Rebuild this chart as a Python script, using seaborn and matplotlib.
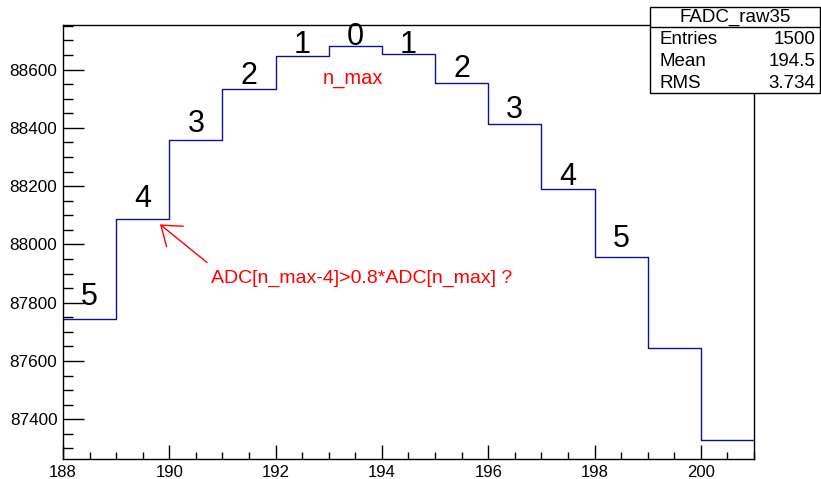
import numpy as np
import pandas as pd
import matplotlib
matplotlib.use("Agg")
import matplotlib.pyplot as plt
from matplotlib.ticker import MultipleLocator
import seaborn as sns

# histogram contents, one bin per ADC sample
bin_edges = [188, 189, 190, 191, 192, 193, 194, 195, 196, 197, 198, 199, 200, 201]
adc_values = [87743, 88087, 88360, 88533, 88647, 88680, 88654, 88553, 88415, 88190, 87956, 87645, 87329]
# distance from the maximum, written above the bins 188..198
dist_labels = ["5", "4", "3", "2", "1", "0", "1", "2", "3", "4", "5"]
label_lift = [14, 12, 8, 5, 3, 1, 1, 6, 6, 4, 10]  # pixels above the step

stats_title = "FADC_raw35"
stats_names = ["Entries", "Mean", "RMS"]
stats_vals = ["1500", "194.5", "3.734"]

sns.set_style("ticks")
plt.rcParams["font.family"] = ["Liberation Sans", "DejaVu Sans"]
plt.rcParams["text.color"] = "black"
plt.rcParams["xtick.color"] = "black"
plt.rcParams["ytick.color"] = "black"

df = pd.DataFrame({"center": np.array(bin_edges[:-1]) + 0.5, "adc": adc_values})

fig = plt.figure(figsize=(8.21, 4.79), dpi=100)
ax = fig.add_axes([0.0767, 0.0418, 0.9184 - 0.0767, 0.9478 - 0.0418])

sns.histplot(data=df, x="center", weights="adc", bins=bin_edges, element="step",
             fill=False, color="#10109a", linewidth=1.0, ax=ax)

ax.set_xlim(188, 201)
ax.set_ylim(87264, 88753)
ax.set_xlabel("")
ax.set_ylabel("")
ax.xaxis.set_major_locator(MultipleLocator(2))
ax.xaxis.set_minor_locator(MultipleLocator(0.5))
ax.yaxis.set_major_locator(MultipleLocator(200))
ax.yaxis.set_minor_locator(MultipleLocator(50))
ax.tick_params(axis="x", which="major", direction="in", length=10, width=1, labelsize=12, pad=4)
ax.tick_params(axis="x", which="minor", direction="in", length=5, width=1)
ax.tick_params(axis="y", which="major", direction="in", length=15, width=1, labelsize=12.3, pad=4)
ax.tick_params(axis="y", which="minor", direction="in", length=7.5, width=1)
for s in ax.spines.values():
    s.set_linewidth(1.0)
    s.set_color("black")

# numbers above the steps
for i, lab in enumerate(dist_labels):
    ax.annotate(lab, xy=(df["center"][i], adc_values[i]), xytext=(0, label_lift[i] * 0.72),
                textcoords="offset points", ha="center", va="baseline", fontsize=22)

ax.text(193.45, 88568, "n_max", color="red", fontsize=14.5, ha="center", va="center")
ax.text(190.78, 87885, "ADC[n_max-4]>0.8*ADC[n_max] ?", color="red", fontsize=14,
        ha="left", va="center")
ax.annotate("", xy=(189.825, 88069), xytext=(190.71, 87938),
            arrowprops=dict(arrowstyle="->,head_length=1.3,head_width=0.95", color="red",
                            lw=1, shrinkA=0, shrinkB=0))

# stats box in figure pixels
W, H = 821, 479
box_x0, box_x1, box_y0, box_y1, sep_y = 650, 820, 7, 93, 27
fig.patches.append(plt.Rectangle((box_x0 / W, 1 - box_y1 / H), (box_x1 - box_x0) / W,
                                 (box_y1 - box_y0) / H, transform=fig.transFigure,
                                 facecolor="white", edgecolor="black", lw=1, zorder=5))
fig.lines.append(plt.Line2D([box_x0 / W, box_x1 / W], [1 - sep_y / H, 1 - sep_y / H],
                            transform=fig.transFigure, color="black", lw=1, zorder=6))
fig.text((box_x0 + box_x1) / 2 / W, 1 - 17 / H, stats_title, ha="center", va="center",
         fontsize=13.5, zorder=7)
for k, (n, v) in enumerate(zip(stats_names, stats_vals)):
    yy = 1 - (40 + 21.5 * k) / H
    fig.text(659 / W, yy, n, ha="left", va="center", fontsize=13.5, zorder=7)
    fig.text(815 / W, yy, v, ha="right", va="center", fontsize=13.5, zorder=7)

fig.savefig("out.png", dpi=100, facecolor="white")
